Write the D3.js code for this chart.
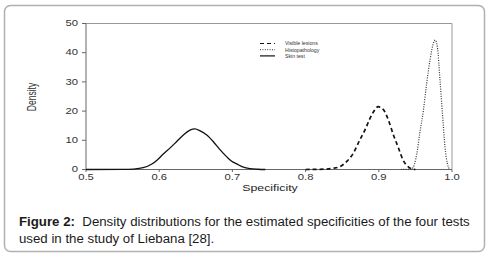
<!DOCTYPE html>
<html>
<head>
<meta charset="utf-8">
<script src="https://cdn.jsdelivr.net/npm/d3@7"></script>
<style>
	html, body { margin: 0; padding: 0; background: #fff; }
	svg { display: block; }
</style>
</head>
<body>
<svg id="chart" width="490" height="256"></svg>
<script>
/* global d3 */

/////////////////////////////////////////////////////////////////////////
// data

var xTicks = [0.5, 0.6, 0.7, 0.8, 0.9, 1.0]
var yTicks = [0, 10, 20, 30, 40, 50]

var seriesNames = ['Visible lesions', 'Histopathology', 'Skin test']

var skinX = [0.50, 0.55, 0.565, 0.578, 0.59, 0.597, 0.606, 0.615, 0.624, 0.633, 0.642, 0.649,
	0.656, 0.665, 0.674, 0.683, 0.692, 0.699, 0.706, 0.715, 0.724, 0.735, 0.745]
var skinY = [0, 0.02, 0.15, 0.6, 1.9, 3.2, 5.4, 7.4, 9.6, 11.8, 13.5, 13.9,
	13.2, 11.8, 9.5, 6.8, 4.4, 2.8, 1.9, 0.8, 0.3, 0.08, 0]

var lesionX = [0.80, 0.825, 0.837, 0.847, 0.856, 0.865, 0.874, 0.881, 0.888, 0.895, 0.899,
	0.906, 0.913, 0.92, 0.927, 0.933, 0.94, 0.945, 0.95]
var lesionY = [0, 0.1, 0.4, 1.0, 2.7, 5.5, 10.1, 13.5, 17.5, 20.6, 21.5,
	20.6, 17.0, 11.8, 7.3, 3.3, 1.0, 0.2, 0]

var histoX = [0.93, 0.945, 0.952, 0.956, 0.961, 0.9654, 0.97, 0.9745, 0.977, 0.98,
	0.9836, 0.9873, 0.9904, 0.9936, 0.9963]
var histoY = [0, 0.2, 5.5, 12.4, 20.4, 29.5, 37.5, 43.2, 44.3, 42.0,
	30.6, 18.0, 7.8, 2.1, 0.2]

/////////////////////////////////////////////////////////////////////////
// layout

var svg = d3.select('#chart')

svg.append('rect')
	.attr('x', 4.5).attr('y', 5.5)
	.attr('width', 480).attr('height', 246)
	.attr('rx', 6).attr('ry', 6)
	.attr('fill', '#fff')
	.attr('stroke', '#b0b0b0')
	.attr('stroke-width', 1.5)

var x = d3.scaleLinear().domain([0.5, 1.0]).range([86, 452])
var y = d3.scaleLinear().domain([0, 50]).range([169.5, 23.5])

var g = svg.append('g')

// frame (top and right)
g.append('path')
	.attr('d', 'M' + x(0.5) + ',' + y(50) + 'H' + x(1.0) + 'V' + y(0))
	.attr('fill', 'none')
	.attr('stroke', '#999')
	.attr('stroke-width', 1)

var sx = 1.25 // the figure text is stretched sideways

// y axis
var yAxis = g.append('g').attr('transform', 'translate(' + x(0.5) + ',0)')
yAxis.append('line')
	.attr('y1', y(0)).attr('y2', y(50))
	.attr('stroke', '#666')
yAxis.selectAll('.tick').data(yTicks).enter().append('g')
	.attr('class', 'tick')
	.attr('transform', function(d) { return 'translate(0,' + y(d) + ')' })
	.each(function(d) {
		var t = d3.select(this)
		t.append('line').attr('x1', -4).attr('x2', 0).attr('stroke', '#666')
		t.append('text')
			.attr('transform', 'translate(-8,0) scale(' + sx + ',1)')
			.attr('dy', '0.3em')
			.attr('text-anchor', 'end')
			.attr('font-family', 'Liberation Sans, Arial, sans-serif')
			.attr('font-size', 9)
			.attr('fill', '#333')
			.text(d)
	})

// x axis
var xAxis = g.append('g').attr('transform', 'translate(0,' + y(0) + ')')
xAxis.append('line')
	.attr('x1', x(0.5)).attr('x2', x(1.0))
	.attr('stroke', '#666')
xAxis.selectAll('.tick').data(xTicks).enter().append('g')
	.attr('class', 'tick')
	.attr('transform', function(d) { return 'translate(' + x(d) + ',0)' })
	.each(function(d) {
		var t = d3.select(this)
		t.append('line').attr('y1', 0).attr('y2', 2.5).attr('stroke', '#666')
		t.append('text')
			.attr('transform', 'translate(0,10.5) scale(' + sx + ',1)')
			.attr('text-anchor', 'middle')
			.attr('font-family', 'Liberation Sans, Arial, sans-serif')
			.attr('font-size', 9)
			.attr('fill', '#333')
			.text(d3.format('.1f')(d))
	})

// axis titles
g.append('text')
	.attr('transform', 'translate(36,97) scale(1.4,1) rotate(-90)')
	.attr('text-anchor', 'middle')
	.attr('font-family', 'Liberation Sans, Arial, sans-serif')
	.attr('font-size', 8.5)
	.attr('fill', '#333')
	.text('Density')

g.append('text')
	.attr('transform', 'translate(270,191) scale(1.3,1)')
	.attr('text-anchor', 'middle')
	.attr('font-family', 'Liberation Sans, Arial, sans-serif')
	.attr('font-size', 9.5)
	.attr('fill', '#222')
	.text('Specificity')

/////////////////////////////////////////////////////////////////////////
// curves

var line = d3.line()
	.x(function(d) { return x(d[0]) })
	.y(function(d) { return y(d[1]) })
	.curve(d3.curveMonotoneX)

var styles = [
	{ dash: '4,3', width: 1.7, color: '#111' },
	{ dash: '1,1.4', width: 1.2, color: '#333' },
	{ dash: null, width: 1.3, color: '#111' }
]

var curves = [
	d3.zip(lesionX, lesionY),
	d3.zip(histoX, histoY),
	d3.zip(skinX, skinY)
]

curves.forEach(function(pts, i) {
	g.append('path')
		.datum(pts)
		.attr('d', line)
		.attr('fill', 'none')
		.attr('stroke', styles[i].color)
		.attr('stroke-width', styles[i].width)
		.attr('stroke-dasharray', styles[i].dash)
})

// legend
var legend = g.append('g').attr('transform', 'translate(260,43.5)')
seriesNames.forEach(function(name, i) {
	var row = legend.append('g').attr('transform', 'translate(0,' + (i * 6.2) + ')')
	row.append('line')
		.attr('x1', 0).attr('x2', 15)
		.attr('stroke', styles[i].color)
		.attr('stroke-width', i === 1 ? 1 : 1.2)
		.attr('stroke-dasharray', styles[i].dash)
	row.append('text')
		.attr('x', 25)
		.attr('dy', '0.35em')
		.attr('font-family', 'Liberation Sans, Arial, sans-serif')
		.attr('font-size', 5.2)
		.attr('fill', '#333')
		.text(name)
})

/////////////////////////////////////////////////////////////////////////
// caption

var caption = svg.append('text')
	.attr('font-family', 'Arial, Liberation Sans, sans-serif')
	.attr('font-size', 13.25)
	.attr('fill', '#1a1a1a')

var l1 = caption.append('tspan').attr('x', 19).attr('y', 226)
l1.append('tspan').attr('font-weight', 'bold').text('Figure 2:')
l1.append('tspan').text('\u00a0 Density distributions for the estimated specificities of the four tests')

caption.append('tspan').attr('x', 19).attr('y', 242.5)
	.text('used in the study of Liebana [28].')
</script>
</body>
</html>
